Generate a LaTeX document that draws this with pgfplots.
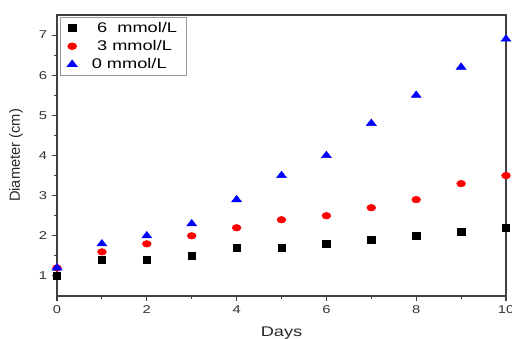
\documentclass[border=0pt]{standalone}
\usepackage{pgfplots}
\pgfplotsset{compat=1.18}
\usepackage{fontspec}
\setmainfont{Liberation Sans}
\newfontfamily\wide[FakeStretch=1.3]{Liberation Sans}
\usetikzlibrary{calc}
\begin{document}
\begin{tikzpicture}
\begin{axis}[
  width=336.75pt, height=210.75pt, scale only axis,
  xmin=0, xmax=10, ymin=0.5, ymax=7.5,
  xtick={0,2,...,10}, ytick={1,2,...,7},
  minor x tick num=1, minor y tick num=1,
  axis line style={black!75, line width=1pt},
  tick style={black!75, line width=0.8pt},
  tick align=outside,
  xtick pos=bottom, ytick pos=left,
  major tick length=4pt, minor tick length=2.5pt,
  /pgf/number format/assume math mode=true,
  tick label style={font=\wide\fontsize{8.5}{9}\selectfont, text=black!80},
  xlabel={Days}, ylabel={Diameter (cm)},
  xlabel style={font=\wide\fontsize{10.5}{12}\selectfont, text=black!85, yshift=-3pt},
  ylabel style={font=\fontsize{11}{12}\selectfont, text=black!85, yshift=5pt},
  legend style={at={(0.007,0.993)}, anchor=north west, draw=black!40, line width=0.6pt,
    font=\wide\fontsize{10.5}{11}\selectfont, inner xsep=5pt, inner ysep=1.5pt, row sep=0.5pt},
  legend cell align=left,
  legend image post style={xshift=8pt},
]
\addplot[only marks, mark=square*, mark size=2.8pt, black] coordinates {
 (0,1.0) (1,1.4) (2,1.4) (3,1.5) (4,1.7) (5,1.7) (6,1.8) (7,1.9) (8,2.0) (9,2.1) (10,2.2)};
\addlegendentry{\hspace{13pt}6\ \ mmol/L}
\addplot[only marks, mark=*, mark size=3.3pt, red, mark options={fill=red, draw=red, yscale=0.75}] coordinates {
 (0,1.2) (1,1.6) (2,1.8) (3,2.0) (4,2.2) (5,2.4) (6,2.5) (7,2.7) (8,2.9) (9,3.3) (10,3.5)};
\addlegendentry{\hspace{13pt}3 mmol/L}
\addplot[only marks, mark=triangle*, mark size=4.3pt, blue, mark options={fill=blue, draw=blue, yscale=0.75}] coordinates {
 (0,1.2) (1,1.8) (2,2.0) (3,2.3) (4,2.9) (5,3.5) (6,4.0) (7,4.8) (8,5.5) (9,6.2) (10,6.9)};
\addlegendentry{\hspace{9pt}0 mmol/L}
\end{axis}
\pgfresetboundingbox
\useasboundingbox ($(current axis.south west)+(-42.75pt,-31.5pt)$) rectangle ($(current axis.north east)+(4.5pt,11.25pt)$);
\end{tikzpicture}
\end{document}
